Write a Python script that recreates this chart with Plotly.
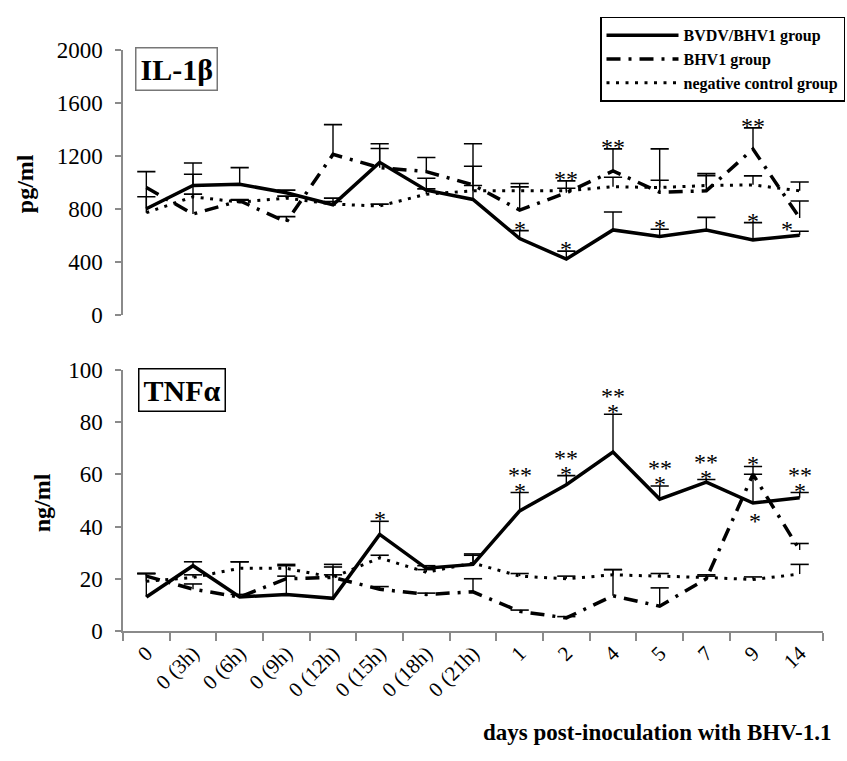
import plotly.graph_objects as go

# ---- data -------------------------------------------------------------
days = ["0", "0 (3h)", "0 (6h)", "0 (9h)", "0 (12h)", "0 (15h)", "0 (18h)",
        "0 (21h)", "1", "2", "4", "5", "7", "9", "14"]

group_names = ["BVDV/BHV1 group", "BHV1 group", "negative control group"]

# IL-1beta (pg/ml)
il_bvdv = [800, 975, 985, 920, 830, 1150, 940, 870, 575, 420, 640, 590, 640, 565, 600]
il_bvdv_err = [280, 170, 125, 20, 50, 140, 90, 420, 60, 60, 135, 55, 95, 130, 30]
il_bhv = [960, 760, 860, 700, 1210, 1110, 1080, 980, 790, 920, 1085, 925, 935, 1250, 730]
il_bhv_err = [0, 300, 10, 40, 225, 145, 107, 140, 200, 90, 167, 327, 130, 160, 128]
il_ctrl = [770, 890, 850, 880, 835, 820, 910, 935, 935, 935, 966, 960, 975, 980, 935]
il_ctrl_err = [120, 20, 15, 15, 20, 15, 40, 40, 30, 20, 72, 55, 75, 68, 67]

# TNF-alpha (ng/ml)
tnf_bvdv = [13, 25, 13, 14, 12.5, 37, 24, 25.5, 46, 56, 68.5, 50.5, 57, 49, 51]
tnf_bvdv_err = [9, 1.5, 13.5, 11.5, 13, 5, 1, 4, 7, 3.5, 14.5, 5, 1, 11, 2]
tnf_bhv = [21, 16, 13, 20, 20.5, 16, 14, 15, 7.5, 5, 13.5, 9.5, 20, 60, 31]
tnf_bhv_err = [1, 2, 1, 1, 1, 1, 0.5, 5, 0.5, 0.5, 10, 7, 1, 3, 2.5]
tnf_ctrl = [19, 20.5, 24, 24, 20.5, 28, 22.5, 26, 21, 20, 21.5, 21, 20.5, 19.7, 21.8]
tnf_ctrl_err = [3, 1, 2.5, 1, 4, 1, 1, 3, 1, 1, 2, 1, 1, 1, 3.7]

# significance marks: (day index, group index, text, placement)
il_marks = [(8, 0, "*", "above"), (9, 0, "*", "above"), (9, 1, "**", "above"),
            (10, 1, "**", "above"), (11, 0, "*", "above"), (13, 0, "*", "above"),
            (13, 1, "**", "above"), (14, 1, "*", "left")]
tnf_marks = [(5, 0, "*", "above"),
             (8, 0, "*", "above"), (8, 0, "**", "above2"),
             (9, 0, "*", "above"), (9, 0, "**", "above2"),
             (10, 0, "*", "above"), (10, 0, "**", "above2"),
             (11, 0, "*", "above"), (11, 0, "**", "above2"),
             (12, 0, "*", "above"), (12, 0, "**", "above2"),
             (13, 1, "*", "above"), (13, 0, "*", "below"),
             (14, 0, "*", "above"), (14, 0, "**", "above2")]

# ---- styling ----------------------------------------------------------
W, H = 847, 761
SERIF = "Times New Roman, Liberation Serif, serif"
AXIS_GREY = "#8a8a8a"
styles = [
    dict(dash="solid", width=3.5),
    dict(dash="14px,8px,3px,8px", width=3.5),
    dict(dash="3px,6.5px", width=3),
]

x_dom = [123 / W, 823 / W]
top_dom = [1 - 313 / H, 1 - 39 / H]
bot_dom = [1 - 640 / H, 1 - 370 / H]

fig = go.Figure()


def add_panel(values, errors, xa, ya, show_legend):
    for g, (vals, errs) in enumerate(zip(values, errors)):
        st = styles[g]
        # line with upward error bars
        fig.add_trace(go.Scatter(
            x=days, y=vals, mode="lines", name=group_names[g],
            line=dict(color="black", width=st["width"], dash=st["dash"]),
            xaxis=xa, yaxis=ya, showlegend=show_legend, legendrank=g,
            error_y=dict(type="data", symmetric=False, array=errs,
                         arrayminus=[0] * len(errs), color="black",
                         thickness=1.4, width=0),
        ))
        # caps on the upper error limit
        tops = [v + e for v, e in zip(vals, errs)]
        cap_x = [d for d, e in zip(days, errs) if e > 0]
        cap_y = [t for t, e in zip(tops, errs) if e > 0]
        fig.add_trace(go.Scatter(
            x=cap_x, y=cap_y, mode="markers", showlegend=False,
            marker=dict(symbol="line-ew", size=13, color="black",
                        line=dict(color="black", width=1.6)),
            xaxis=xa, yaxis=ya, hoverinfo="skip",
        ))


il_vals = [il_bvdv, il_bhv, il_ctrl]
il_errs = [il_bvdv_err, il_bhv_err, il_ctrl_err]
tnf_vals = [tnf_bvdv, tnf_bhv, tnf_ctrl]
tnf_errs = [tnf_bvdv_err, tnf_bhv_err, tnf_ctrl_err]

add_panel(il_vals, il_errs, "x2", "y2", True)
add_panel(tnf_vals, tnf_errs, "x", "y", False)


def add_marks(marks, vals, errs, xref, yref):
    for idx, g, txt, where in marks:
        v = vals[g][idx]
        top = v + errs[g][idx]
        if where == "above":
            y, ys, xs = top, 7, 0
        elif where == "above2":
            y, ys, xs = top, 23, 0
        elif where == "below":
            y, ys, xs = v, -13, 2
        else:  # left of the point
            y, ys, xs = v, -6, -13
        # category position given by index so numeric-looking labels stay put
        fig.add_annotation(x=idx, y=y, xref=xref, yref=yref,
                           text=txt, showarrow=False, xshift=xs,
                           yshift=ys - 5, yanchor="middle",
                           font=dict(family=SERIF, size=24, color="black"))


add_marks(il_marks, il_vals, il_errs, "x2", "y2")
add_marks(tnf_marks, tnf_vals, tnf_errs, "x", "y")

tick_font = dict(family=SERIF, size=23, color="black")
common_y = dict(showline=True, linecolor=AXIS_GREY, linewidth=1.5,
                ticks="outside", ticklen=6, tickcolor=AXIS_GREY, tickwidth=1.5,
                showgrid=False, zeroline=False, tickfont=tick_font,
                ticklabelstandoff=8)

fig.update_layout(
    width=W, height=H,
    margin=dict(l=0, r=0, t=0, b=0),
    paper_bgcolor="white", plot_bgcolor="white",
    xaxis=dict(domain=x_dom, anchor="y", type="category",
               categoryorder="array", categoryarray=days,
               range=[-0.5, len(days) - 0.5], tickson="boundaries",
               showline=True, linecolor=AXIS_GREY, linewidth=1.5,
               ticks="outside", ticklen=8, tickcolor=AXIS_GREY, tickwidth=1.5,
               tickangle=-45, showgrid=False,
               tickfont=dict(family=SERIF, size=21, color="black")),
    yaxis=dict(domain=bot_dom, anchor="x", range=[0, 100], dtick=20, **common_y),
    xaxis2=dict(domain=x_dom, anchor="y2", type="category",
                categoryorder="array", categoryarray=days,
                range=[-0.5, len(days) - 0.5], showline=False,
                showticklabels=False, ticks="", showgrid=False),
    yaxis2=dict(domain=top_dom, anchor="x2", range=[0, 2000], dtick=400, **common_y),
    legend=dict(x=845 / W, xanchor="right", y=1 - 5 / H, yanchor="top",
                bgcolor="white", bordercolor="black", borderwidth=1.5,
                itemwidth=72, tracegroupgap=0,
                font=dict(family=SERIF, size=16, color="black", weight="bold")),
    showlegend=True,
)

# panel labels
for txt, cx, cy, border in [("IL-1β", 176, 59, "#777777"), ("TNFα", 182, 391, "black")]:
    fig.add_annotation(x=cx / W, y=1 - cy / H, xref="paper", yref="paper",
                       text=txt, showarrow=False, xanchor="center", yanchor="middle",
                       bordercolor=border, borderwidth=1.5, borderpad=4,
                       bgcolor="white",
                       font=dict(family=SERIF, size=30, color="black", weight="bold"))

# axis titles
for txt, cx, cy in [("pg/ml", 25, 178), ("ng/ml", 42, 508)]:
    fig.add_annotation(x=cx / W, y=1 - cy / H, xref="paper", yref="paper",
                       text=txt, showarrow=False, textangle=-90,
                       xanchor="center", yanchor="middle",
                       font=dict(family=SERIF, size=24, color="black", weight="bold"))

fig.add_annotation(x=833 / W, y=1 - 745 / H, xref="paper", yref="paper",
                   text="days post-inoculation with BHV-1.1", showarrow=False,
                   xanchor="right", yanchor="middle",
                   font=dict(family=SERIF, size=23, color="black", weight="bold"))

fig.write_html("out.html")
